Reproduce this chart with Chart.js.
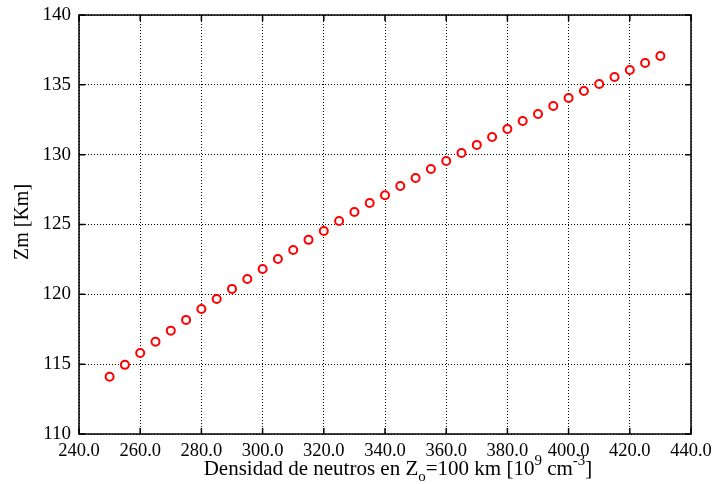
<!DOCTYPE html>
<html lang="es">
<head>
<meta charset="UTF-8">
<title>Zm vs densidad de neutros</title>
<script src="https://cdn.jsdelivr.net/npm/chart.js"></script>
<style>
  html, body { margin: 0; padding: 0; background: #fff; }
  .chart-box { width: 713px; height: 484px; }
</style>
</head>
<body>
<div class="chart-box"><canvas id="zmChart"></canvas></div>
<script>
// Densidad de neutros en Zo=100 km [10^9 cm^-3]
const densidad = [250, 255, 260, 265, 270, 275, 280, 285, 290, 295, 300, 305, 310,
  315, 320, 325, 330, 335, 340, 345, 350, 355, 360, 365, 370, 375, 380, 385, 390,
  395, 400, 405, 410, 415, 420, 425, 430];
// Altura Zm [Km]
const zm = [114.1, 114.95, 115.8, 116.6, 117.4, 118.17, 118.95, 119.67, 120.39, 121.1,
  121.82, 122.53, 123.18, 123.9, 124.54, 125.25, 125.9, 126.54, 127.1, 127.76, 128.33,
  128.98, 129.55, 130.12, 130.7, 131.27, 131.84, 132.41, 132.91, 133.49, 134.06, 134.56,
  135.06, 135.56, 136.06, 136.56, 137.07];
const xTicks = [240, 260, 280, 300, 320, 340, 360, 380, 400, 420, 440];
const yTicks = [110, 115, 120, 125, 130, 135, 140];

const serif = '"Liberation Serif", "DejaVu Serif", serif';

// marco, marcas interiores y titulos de los ejes
const framePlugin = {
  id: 'frame',
  afterDraw(chart) {
    const { ctx, chartArea: a, scales: { x, y } } = chart;
    ctx.save();
    ctx.strokeStyle = '#000';
    ctx.lineWidth = 1.5;
    ctx.beginPath();
    xTicks.forEach(v => {
      const px = x.getPixelForValue(v);
      ctx.moveTo(px, a.bottom); ctx.lineTo(px, a.bottom - 6);
      ctx.moveTo(px, a.top); ctx.lineTo(px, a.top + 6);
    });
    yTicks.forEach(v => {
      const py = y.getPixelForValue(v);
      ctx.moveTo(a.left, py); ctx.lineTo(a.left + 6, py);
      ctx.moveTo(a.right, py); ctx.lineTo(a.right - 6, py);
    });
    ctx.stroke();
    ctx.strokeRect(a.left, a.top, a.right - a.left, a.bottom - a.top);

    // titulo eje x con subindice y superindices
    ctx.fillStyle = '#000';
    ctx.textBaseline = 'alphabetic';
    ctx.textAlign = 'left';
    const big = '21px ' + serif, small = '15px ' + serif;
    const parts = [
      ['Densidad de neutros en Z', big, 0],
      ['o', small, 6],
      ['=100 km [10', big, 0],
      ['9', small, -10],
      [' cm', big, 0],
      ['-3', small, -10],
      [']', big, 0]
    ];
    let w = 0;
    parts.forEach(p => { ctx.font = p[1]; w += ctx.measureText(p[0]).width; });
    let cx = (a.left + a.right) / 2 - w / 2 + 13;
    const base = 475;
    parts.forEach(p => {
      ctx.font = p[1];
      ctx.fillText(p[0], cx, base + p[2]);
      cx += ctx.measureText(p[0]).width;
    });

    // titulo eje y
    ctx.font = '20px ' + serif;
    ctx.textAlign = 'center';
    ctx.translate(23, 222);
    ctx.rotate(-Math.PI / 2);
    ctx.textBaseline = 'middle';
    ctx.fillText('Zm [Km]', 0, 0);
    ctx.restore();
  }
};

new Chart(document.getElementById('zmChart'), {
  type: 'scatter',
  data: {
    datasets: [{
      data: densidad.map((d, i) => ({ x: d, y: zm[i] })),
      pointStyle: 'circle',
      pointRadius: 4,
      borderWidth: 2,
      borderColor: '#ff0000',
      backgroundColor: '#ffffff'
    }]
  },
  options: {
    responsive: true,
    maintainAspectRatio: false,
    animation: false,
    layout: { padding: { top: 15, right: 22, left: 0, bottom: 0 } },
    plugins: { legend: { display: false }, tooltip: { enabled: false } },
    scales: {
      x: {
        type: 'linear',
        min: 240, max: 440,
        afterBuildTicks: s => { s.ticks = xTicks.map(v => ({ value: v })); },
        afterFit: s => { s.height = 50; s.paddingLeft = 0; s.paddingRight = 0; },
        grid: { color: '#000', lineWidth: 1, drawTicks: false },
        border: { display: false, dash: [1, 2] },
        ticks: {
          padding: 6,
          color: '#000',
          font: { family: serif, size: 18.5 },
          maxRotation: 0,
          callback: v => v.toFixed(1)
        }
      },
      y: {
        min: 110, max: 140,
        afterBuildTicks: s => { s.ticks = yTicks.map(v => ({ value: v })); },
        afterFit: s => { s.width = 79; s.paddingTop = 0; s.paddingBottom = 0; },
        grid: { color: '#000', lineWidth: 1, drawTicks: false },
        border: { display: false, dash: [1, 2] },
        ticks: {
          padding: 8,
          color: '#000',
          font: { family: serif, size: 19 }
        }
      }
    }
  },
  plugins: [framePlugin]
});
</script>
</body>
</html>
